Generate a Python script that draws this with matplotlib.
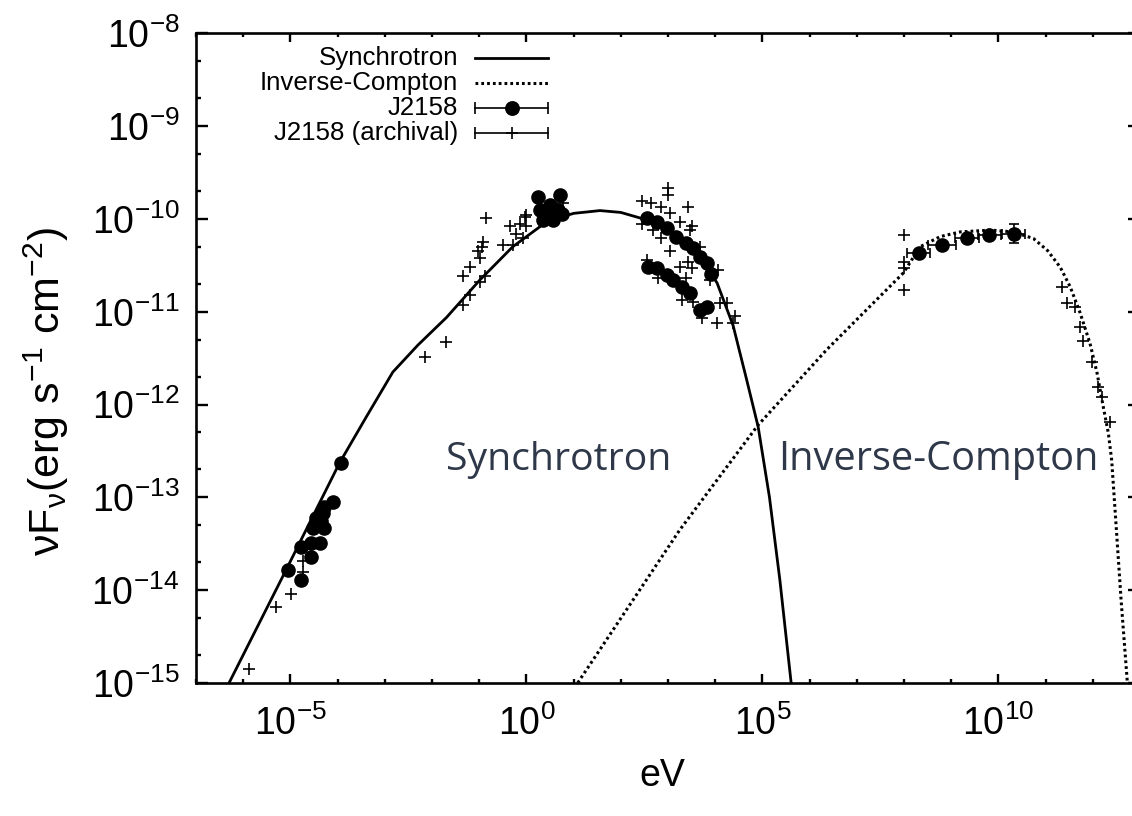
import matplotlib
matplotlib.use("Agg")
import matplotlib.pyplot as plt
from matplotlib.ticker import FixedLocator, LogLocator, NullFormatter, FuncFormatter
import numpy as np

plt.rcParams['font.family'] = ['Liberation Sans', 'DejaVu Sans']
plt.rcParams['mathtext.fontset'] = 'custom'
plt.rcParams['mathtext.rm'] = 'Liberation Sans'
plt.rcParams['mathtext.it'] = 'Liberation Sans:italic'
plt.rcParams['mathtext.bf'] = 'Liberation Sans:bold'

# model curves, log10(E/eV) and log10(nuFnu)
sync_logE = [-6.35, -5.09, -3.96, -3.40, -2.83, -2.30, -1.69, -0.99, -0.29, 0.43,
             1.00, 1.56, 2.00, 2.41, 3.10, 3.68, 4.04, 4.38, 4.67, 4.91, 5.15, 5.37, 5.62]
sync_logF = [-15.05, -13.78, -12.63, -12.14, -11.65, -11.36, -11.06, -10.66, -10.30, -10.03,
             -9.94, -9.91, -9.93, -9.99, -10.15, -10.41, -10.69, -11.15, -11.74, -12.24, -13.00, -13.89, -15.05]

ic_logE = [1.02, 3.25, 4.91, 6.36, 7.99, 8.34, 8.77, 9.19, 9.83, 10.31, 10.74, 11.04,
           11.31, 11.52, 11.73, 11.94, 12.09, 12.22, 12.33, 12.40, 12.50, 12.60, 12.74]
ic_logF = [-15.05, -13.35, -12.22, -11.41, -10.58, -10.30, -10.19, -10.14, -10.12, -10.14, -10.21, -10.34,
           -10.52, -10.73, -11.01, -11.34, -11.66, -12.02, -12.31, -12.60, -13.35, -14.11, -15.05]

# J2158 (filled circles)
j_logE = [-3.92, -4.10, -4.28, -4.31, -4.45, -4.35, -4.53, -4.28, -4.38, -4.56, -4.77, -4.56, -5.06, -4.77,
          0.24, 0.71, 0.28, 0.49, 0.66, 0.35, 0.56, 0.75, 0.43,
          2.55, 2.76, 2.97, 3.18, 3.39, 3.53, 3.68, 3.82, 3.92,
          2.58, 2.76, 2.97, 3.11, 3.29, 3.46, 3.68, 3.82]
j_logF = [-12.63, -13.05, -13.10, -13.17, -13.22, -13.25, -13.33, -13.33, -13.49, -13.49, -13.53, -13.64, -13.78, -13.89,
          -9.76, -9.74, -9.90, -9.85, -9.90, -10.01, -10.01, -9.95, -9.93,
          -9.99, -10.03, -10.10, -10.19, -10.26, -10.31, -10.41, -10.48, -10.59,
          -10.52, -10.53, -10.60, -10.66, -10.73, -10.80, -10.98, -10.95]

# J2158 gamma-ray points with error bars
g_logE = [8.31, 8.81, 9.33, 9.81, 10.32]
g_logF = [-10.37, -10.28, -10.21, -10.17, -10.16]
g_dlogE = [0.25, 0.30, 0.25, 0.25, 0.25]
g_dlogF = [0.03, 0.03, 0.03, 0.04, 0.10]

# J2158 archival (crosses)
a_logE = [-5.87, -5.30, -4.98, -4.74, -4.74,
          -2.14, -1.71, -0.86, -0.92, -0.95, -1.03, -0.99, -1.20, -1.34, -0.88, -0.99, -1.20, -1.34,
          -0.50, -0.28, -0.35, -0.21, -0.14, 0.00, 0.00, -0.07, -0.04, 0.78,
          3.00, 3.00, 2.44, 2.65, 2.86, 3.43, 3.04, 3.25, 3.50, 2.44, 2.69, 2.86, 3.46, 3.68, 3.04,
          3.25, 3.43, 3.50, 4.06, 3.89, 2.79, 3.39, 3.29, 3.53, 4.10, 3.71, 4.03, 4.38, 4.42, 4.24, 2.55,
          7.99, 7.99, 7.99, 7.99, 11.35, 11.45, 11.63, 11.73, 11.80, 11.98, 12.12, 12.20, 12.37]
a_logF = [-14.85, -14.18, -14.04, -13.69, -13.80,
          -11.49, -11.33, -9.99, -10.25, -10.30, -10.35, -10.42, -10.52, -10.62, -10.62, -10.68, -10.82, -10.93,
          -10.28, -10.28, -10.08, -10.16, -10.05, -9.96, -10.08, -10.21, -9.98, -9.83,
          -9.67, -9.74, -9.81, -9.83, -9.87, -9.87, -9.94, -10.03, -10.08, -10.05, -10.12, -10.21, -10.12, -10.30, -10.35,
          -10.52, -10.46, -10.53, -10.55, -10.66, -10.64, -10.64, -10.87, -10.89, -10.91, -11.07, -11.12, -11.12, -11.05, -10.91, -10.44,
          -10.17, -10.46, -10.53, -10.77, -10.73, -10.91, -10.95, -11.16, -11.32, -11.54, -11.81, -11.92, -12.19]

xmajor = [1e-5, 1e0, 1e5, 1e10]
legend_labels = ['Synchrotron', 'Inverse-Compton', 'J2158', 'J2158 (archival)']

W, H = 1132, 816
fig = plt.figure(figsize=(W / 100, H / 100), dpi=100)
ax = fig.add_axes([196 / W, 1 - 683 / H, (1140 - 196) / W, (683 - 33.3) / H])

dots = (0, (0.9, 1.0))
ax.plot(10 ** np.array(sync_logE), 10 ** np.array(sync_logF), color='black', lw=2.0)
ax.plot(10 ** np.array(ic_logE), 10 ** np.array(ic_logF), color='black', lw=2.2, linestyle=dots)

ax.plot(10 ** np.array(a_logE), 10 ** np.array(a_logF), '+', color='black', ms=9, mew=1.2)
ax.plot(10 ** np.array(j_logE), 10 ** np.array(j_logF), 'o', color='black', ms=9.5, mec='black')

gE = np.array(g_logE)
gF = np.array(g_logF)
xlo = 10 ** gE - 10 ** (gE - np.array(g_dlogE))
xhi = 10 ** (gE + np.array(g_dlogE)) - 10 ** gE
ylo = 10 ** gF - 10 ** (gF - np.array(g_dlogF))
yhi = 10 ** (gF + np.array(g_dlogF)) - 10 ** gF
ax.errorbar(10 ** gE, 10 ** gF, xerr=[xlo, xhi], yerr=[ylo, yhi], fmt='o', color='black',
            ms=9.5, elinewidth=1.2, capsize=3.5, capthick=1.2)

ax.set_xscale('log')
ax.set_yscale('log')
ax.set_xlim(1e-7, 1e13)
ax.set_ylim(1e-15, 1e-8)

ax.xaxis.set_major_locator(FixedLocator(xmajor))
ax.xaxis.set_minor_locator(FixedLocator([10.0 ** k for k in range(-7, 14)]))
ax.xaxis.set_minor_formatter(NullFormatter())
ax.yaxis.set_major_locator(LogLocator(base=10, numticks=20))
ax.yaxis.set_minor_locator(LogLocator(base=10, subs=[2, 5], numticks=20))
ax.yaxis.set_minor_formatter(NullFormatter())

fmt = FuncFormatter(lambda v, p: r'$\mathregular{10^{%d}}$' % round(np.log10(v)))
ax.xaxis.set_major_formatter(fmt)
ax.yaxis.set_major_formatter(fmt)

for s in ax.spines.values():
    s.set_linewidth(1.9)
ax.tick_params(which='both', direction='in', top=True, right=True, width=1.7, labelsize=27)
ax.tick_params(axis='x', which='major', length=6.5, pad=16)
ax.tick_params(axis='x', which='minor', length=3)
ax.tick_params(axis='y', which='major', length=8.4, pad=12)
ax.tick_params(axis='y', which='minor', length=3.6)

fig.text(662 / W, 1 - 776 / H, 'eV', fontsize=27, ha='center', va='center')
fig.text(46 / W, 1 - 392 / H,
         r'$\mathregular{\nu}$F$_{\mathregular{\nu}}$(erg s$^{\mathregular{-1}}$ cm$^{\mathregular{-2}}$)',
         fontsize=31, rotation=90, ha='center', va='center')

# legend drawn in figure pixels
def px(x, y):
    return x / W, 1 - y / H

rows = [57.7, 83.3, 108.3, 133.3]
x0, x1, xm = 475, 548, 511.5
for lab, yy in zip(legend_labels, rows):
    fig.text(*px(458, yy), lab, fontsize=18.6, ha='right', va='center')
tf = fig.transFigure
fig.add_artist(plt.Line2D([x0 / W, x1 / W], [1 - rows[0] / H] * 2, color='black', lw=2.0, transform=tf))
fig.add_artist(plt.Line2D([x0 / W, x1 / W], [1 - rows[1] / H] * 2, color='black', lw=2.2,
                          linestyle=dots, transform=tf))
for k, mk in [(2, 'o'), (3, '+')]:
    yy = 1 - rows[k] / H
    fig.add_artist(plt.Line2D([x0 / W, x1 / W], [yy, yy], color='black', lw=1.2, transform=tf))
    fig.add_artist(plt.Line2D([x0 / W, x1 / W], [yy, yy], color='black', lw=0, marker='|', ms=8,
                              mew=1.2, transform=tf))
    fig.add_artist(plt.Line2D([xm / W], [yy], color='black', lw=0, marker=mk,
                              ms=9.5 if mk == 'o' else 9, mew=1.2, transform=tf))

ax.text(0.2644, 0.343, 'Synchrotron', transform=ax.transAxes, fontsize=28.2, color='#2e3849',
        family='Open Sans', ha='left', va='center')
ax.text(0.6165, 0.343, 'Inverse-Compton', transform=ax.transAxes, fontsize=28.6, color='#2e3849',
        family='Open Sans', ha='left', va='center')

fig.savefig('out.png', dpi=100)
